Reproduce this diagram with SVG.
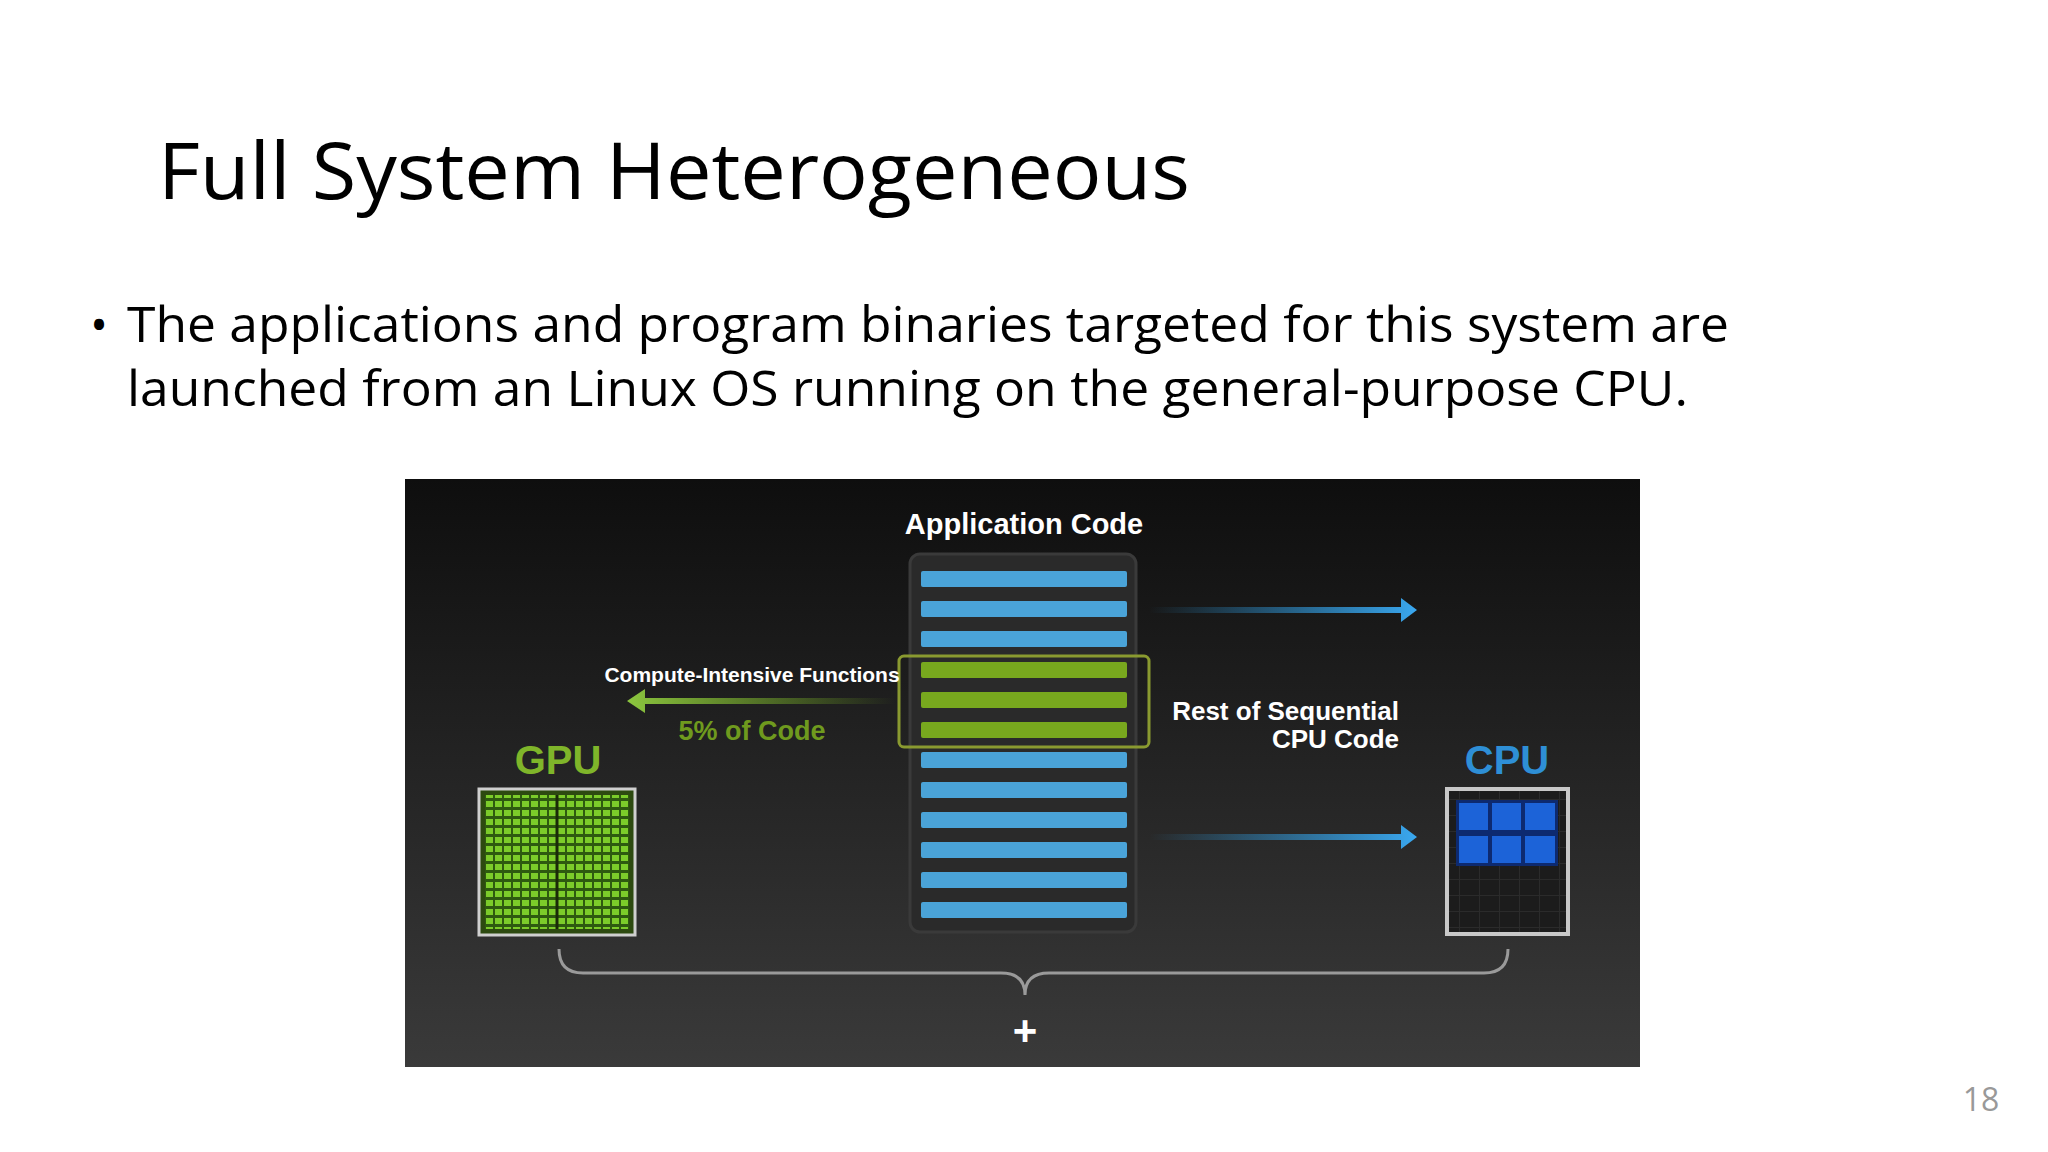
<svg xmlns="http://www.w3.org/2000/svg" width="2048" height="1152" viewBox="0 0 2048 1152">
<defs>
<linearGradient id="bg" x1="0" y1="0" x2="0" y2="1"><stop offset="0" stop-color="#0e0e0e"/><stop offset="1" stop-color="#3a3a3a"/></linearGradient>
<linearGradient id="ba" x1="0" y1="0" x2="1" y2="0"><stop offset="0" stop-color="#2a9be0" stop-opacity="0"/><stop offset="1" stop-color="#3aa8f0"/></linearGradient>
<linearGradient id="ga" x1="1" y1="0" x2="0" y2="0"><stop offset="0" stop-color="#7fbf1f" stop-opacity="0"/><stop offset="1" stop-color="#8cc63f"/></linearGradient>
<pattern id="gp" width="9" height="9" patternUnits="userSpaceOnUse"><rect width="9" height="9" fill="#2e5a10"/><rect width="7" height="6" fill="#7ccc2a"/></pattern>
<pattern id="cg" width="20" height="16" patternUnits="userSpaceOnUse"><rect width="20" height="16" fill="#2b2b2b"/><rect width="19" height="15" fill="#1c1c1c"/></pattern>
</defs>
<style>
.t{font-family:"Open Sans","Liberation Sans",sans-serif;fill:#000}
.w{font-family:"Liberation Sans Narrow","Liberation Sans",sans-serif;font-weight:bold}
.blue{fill:#4aa3d8}.green{fill:#78a81e}
</style>
<rect width="2048" height="1152" fill="#fff"/>
<text class="t" x="158" y="199" font-size="78" textLength="1032" lengthAdjust="spacingAndGlyphs">Full System Heterogeneous</text>
<text class="t" x="90" y="342" font-size="48">•</text>
<text class="t" x="127" y="342" font-size="50" textLength="1602" lengthAdjust="spacingAndGlyphs">The applications and program binaries targeted for this system are</text>
<text class="t" x="127" y="406" font-size="50" textLength="1561" lengthAdjust="spacingAndGlyphs">launched from an Linux OS running on the general-purpose CPU.</text>
<text x="1981" y="1111" font-size="32" fill="#999" text-anchor="middle" font-family="Open Sans, sans-serif">18</text>
<g id="panel"><rect x="405" y="479" width="1235" height="588" fill="url(#bg)"/></g>
<g id="appcode">
<text class="w" x="1024" y="534" font-size="29" fill="#fff" text-anchor="middle">Application Code</text>
<rect x="910" y="554" width="226" height="378" rx="10" fill="#2a2a2a" stroke="#3a3a3a" stroke-width="3"/>
<g class="blue">
<rect x="921" y="571" width="206" height="16" rx="2"/><rect x="921" y="601" width="206" height="16" rx="2"/><rect x="921" y="631" width="206" height="16" rx="2"/>
<rect x="921" y="752" width="206" height="16" rx="2"/><rect x="921" y="782" width="206" height="16" rx="2"/><rect x="921" y="812" width="206" height="16" rx="2"/><rect x="921" y="842" width="206" height="16" rx="2"/><rect x="921" y="872" width="206" height="16" rx="2"/><rect x="921" y="902" width="206" height="16" rx="2"/>
</g>
<g class="green"><rect x="921" y="662" width="206" height="16" rx="2"/><rect x="921" y="692" width="206" height="16" rx="2"/><rect x="921" y="722" width="206" height="16" rx="2"/></g>
<rect x="899" y="656" width="250" height="91" rx="5" fill="none" stroke="#8a9a30" stroke-width="3"/>
</g>
<g id="connectors">
<path d="M1149 607h252v-9l16 12-16 12v-9h-252z" fill="url(#ba)"/>
<path d="M1149 834h252v-9l16 12-16 12v-9h-252z" fill="url(#ba)"/>
<path d="M895 698h-250v-9l-18 12 18 12v-9h250z" fill="url(#ga)"/>
<path d="M559 949q0 24 24 24h418q24 0 24 22q0-22 24-22h435q24 0 24-24" fill="none" stroke="#9a9a9a" stroke-width="3"/>
</g>
<g id="labels">
<text class="w" x="752" y="682" font-size="21" fill="#fff" text-anchor="middle">Compute-Intensive Functions</text>
<text class="w" x="752" y="740" font-size="27" fill="#6f9a1e" text-anchor="middle">5% of Code</text>
<text class="w" x="1399" y="720" font-size="26" fill="#fff" text-anchor="end">Rest of Sequential</text>
<text class="w" x="1399" y="748" font-size="26" fill="#fff" text-anchor="end">CPU Code</text>
<text class="w" x="1025" y="1045" font-size="42" fill="#fff" text-anchor="middle">+</text>
</g>
<g id="gpu">
<text class="w" x="558" y="774" font-size="40" fill="#7fb52a" text-anchor="middle">GPU</text>
<rect x="479" y="789" width="156" height="146" fill="#2d4a10" stroke="#cfcfcf" stroke-width="3"/>
<rect x="485" y="795" width="144" height="134" fill="url(#gp)"/>
<line x1="557" y1="795" x2="557" y2="929" stroke="#1a2a08" stroke-width="3"/>
</g>
<g id="cpu">
<text class="w" x="1507" y="774" font-size="40" fill="#2e8fd6" text-anchor="middle">CPU</text>
<rect x="1447" y="789" width="121" height="145" fill="url(#cg)" stroke="#c8c8c8" stroke-width="4"/>
<rect x="1456" y="800" width="102" height="66" fill="#0d2a70"/>
<g fill="#1c63d8">
<rect x="1459" y="803" width="29" height="27"/><rect x="1492" y="803" width="29" height="27"/><rect x="1525" y="803" width="30" height="27"/>
<rect x="1459" y="836" width="29" height="27"/><rect x="1492" y="836" width="29" height="27"/><rect x="1525" y="836" width="30" height="27"/>
</g>
</g>
</svg>
